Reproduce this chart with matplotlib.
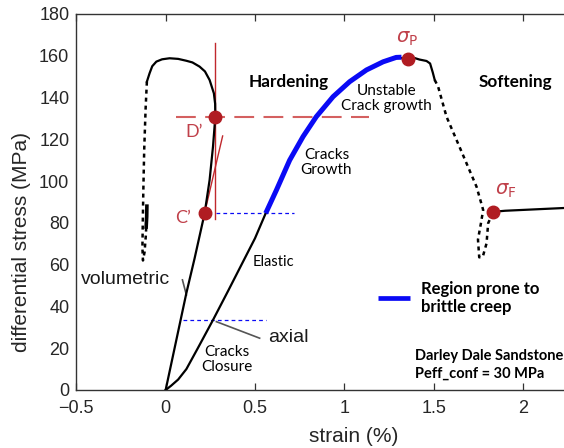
import matplotlib
matplotlib.use("Agg")
import matplotlib.pyplot as plt

# ---------------- data ----------------
# axial strain curve, loading part (solid black)
axial_x = [0.0, 0.03, 0.07, 0.116, 0.18, 0.265, 0.35, 0.433, 0.50, 0.56, 0.62, 0.694,
           0.769, 0.843, 0.937, 1.03, 1.124, 1.217, 1.29, 1.357, 1.39, 1.42, 1.46, 1.48,
           1.495, 1.506]
axial_y = [0.0, 2.0, 5.0, 10.0, 20.0, 33.5, 47.5, 61.4, 72.6, 84.6, 95.7, 110.0,
           121.3, 130.8, 140.4, 147.6, 153.2, 157.1, 159.2, 158.5, 159.0, 158.2, 157.5, 156.3,
           152.0, 148.4]
# region prone to brittle creep (blue overlay on the axial curve)
creep_x = [0.56, 0.62, 0.694, 0.769, 0.843, 0.937, 1.03, 1.124, 1.217, 1.29, 1.32]
creep_y = [84.6, 95.7, 110.0, 121.3, 130.8, 140.4, 147.6, 153.2, 157.1, 159.2, 159.3]
# axial post-peak (dotted) and residual (solid)
post_x = [1.506, 1.525, 1.572, 1.628, 1.684, 1.74, 1.777, 1.765, 1.748, 1.755, 1.775,
          1.796, 1.805, 1.833]
post_y = [148.4, 145.2, 130.8, 119.7, 108.5, 97.3, 86.2, 80.0, 72.0, 63.5, 63.8,
          70.2, 79.8, 85.3]
resid_x = [1.833, 1.9, 2.0, 2.1, 2.2, 2.3]
resid_y = [85.3, 85.8, 86.2, 86.6, 87.0, 87.4]
# volumetric strain curve (solid) and its unloading part (dotted)
vol_x = [0.0, 0.116, 0.162, 0.218, 0.246, 0.265, 0.278, 0.277, 0.27, 0.246, 0.22, 0.19,
         0.15, 0.116, 0.07, 0.022, -0.02, -0.052, -0.075, -0.09, -0.105]
vol_y = [0.0, 46.4, 63.0, 84.5, 100.5, 116.5, 130.8, 137.0, 142.0, 148.4, 152.5, 154.8,
         156.8, 157.6, 158.5, 158.8, 158.3, 157.2, 155.0, 151.6, 147.6]
vold_x = [-0.105, -0.112, -0.12, -0.125, -0.128, -0.13, -0.127, -0.118, -0.11, -0.106]
vold_y = [147.6, 135.0, 115.0, 95.0, 80.0, 68.0, 62.0, 66.0, 75.0, 87.5]
volh_x = [-0.109, -0.106, -0.105]
volh_y = [78.0, 83.0, 88.0]

# characteristic points
pt_names = ["C'", "D'", "P", "F"]
pt_x = [0.218, 0.278, 1.357, 1.833]
pt_y = [84.5, 130.8, 158.5, 85.3]

xticks = [-0.5, 0, 0.5, 1, 1.5, 2]
yticks = list(range(0, 181, 20))

# ---------------- figure ----------------
fig = plt.figure(figsize=(5.64, 4.48), dpi=100)
ax = fig.add_axes([0.1353, 0.1295, 0.9504, 0.8393])
ax.set_xlim(-0.5, 2.5)
ax.set_ylim(0, 180)

RED_DOT = "#b01c22"
RED_TXT = "#c0404a"
RED_LN = "#c0282d"
BLUE = "#0a0af5"

# guide lines
ax.plot([0.06, 1.14], [130.8, 130.8], color="#d46060", lw=1.5, dashes=(9.5, 4.5), zorder=1)
ax.plot([0.279, 0.279], [82, 166], color=RED_LN, lw=1.0, zorder=2)
ax.plot([0.218, 0.319], [84.7, 121.6], color=RED_LN, lw=1.0, zorder=2)
ax.plot([0.28, 0.72], [84.6, 84.6], color=BLUE, lw=0.9, dashes=(3, 2.5), zorder=1)
ax.plot([0.097, 0.564], [33.5, 33.5], color=BLUE, lw=0.9, dashes=(3, 2.5), zorder=1)

# curves
ax.plot(axial_x, axial_y, color="black", lw=1.6, zorder=3)
ax.plot(creep_x, creep_y, color=BLUE, lw=3.6, solid_capstyle="butt", zorder=4)
ax.plot(post_x, post_y, color="black", lw=1.8, dashes=(1.6, 1.6), zorder=3)
ax.plot(resid_x, resid_y, color="black", lw=1.6, zorder=3)
ax.plot(vol_x, vol_y, color="black", lw=1.6, zorder=3)
ax.plot(vold_x, vold_y, color="black", lw=1.8, dashes=(1.6, 1.6), zorder=3)
ax.plot(volh_x, volh_y, color="black", lw=2.6, zorder=3)

# markers
ax.plot(pt_x, pt_y, "o", color=RED_DOT, ms=9, zorder=6, clip_on=False)

# labels of points
ax.text(0.157, 123.6, "D\u2019", color=RED_TXT, fontsize=13, family="Lato",
        ha="center", va="center")
ax.text(0.097, 82.3, "C\u2019", color=RED_TXT, fontsize=13, family="Lato",
        ha="center", va="center")
ax.text(1.35, 168.5, r"$\sigma_{\mathrm{P}}$", color=RED_TXT, fontsize=14,
        ha="center", va="center")
ax.text(1.905, 95.7, r"$\sigma_{\mathrm{F}}$", color=RED_TXT, fontsize=14,
        ha="center", va="center")

# region labels
ax.text(0.69, 147.5, "Hardening", fontsize=12.3, weight="bold", family="Lato",
        ha="center", va="center")
ax.text(1.96, 147.5, "Softening", fontsize=12.3, weight="bold", family="Lato",
        ha="center", va="center")
ax.text(1.235, 139.5, "Unstable\nCrack growth", fontsize=11, family="Lato",
        ha="center", va="center", linespacing=1.1)
ax.text(0.90, 108.9, "Cracks\nGrowth", fontsize=11, family="Lato",
        ha="center", va="center", linespacing=1.1)
ax.text(0.605, 61.3, "Elastic", fontsize=10.5, family="Lato", ha="center", va="center")
ax.text(0.342, 14.8, "Cracks\nClosure", fontsize=11, family="Lato",
        ha="center", va="center", linespacing=1.1)

# curve names with pointer lines
ax.text(-0.472, 52.7, "volumetric", fontsize=14, family="Liberation Sans",
        ha="left", va="center", color="#1a1a1a")
ax.plot([0.094, 0.116], [52.7, 45.5], color="#555555", lw=1.2, zorder=2)
ax.text(0.573, 24.9, "axial", fontsize=14, family="Liberation Sans",
        ha="left", va="center", color="#1a1a1a")
ax.plot([0.284, 0.526], [32.7, 24.8], color="#555555", lw=1.2, zorder=2)

# legend-like annotation
ax.plot([1.19, 1.37], [44, 44], color=BLUE, lw=3.4, solid_capstyle="butt")
ax.text(1.43, 44, "Region prone to\nbrittle creep", fontsize=12, weight="bold",
        family="Lato", ha="left", va="center", linespacing=1.15)
ax.text(1.394, 12, "Darley Dale Sandstone\nPeff_conf = 30 MPa", fontsize=10.5,
        weight="bold", family="Lato", ha="left", va="center", linespacing=1.3)

# axes styling
ax.set_xticks(xticks)
ax.set_xticklabels(["\u22120.5", "0", "0.5", "1", "1.5", "2"])
ax.set_yticks(yticks)
for lab in ax.get_xticklabels() + ax.get_yticklabels():
    lab.set_family("Liberation Sans")
    lab.set_fontsize(13)
    lab.set_color("#262626")
ax.tick_params(axis="x", direction="in", length=5, width=0.9, top=True, pad=7,
               color="#333333")
ax.tick_params(axis="y", direction="in", length=0, width=0.9, right=False, pad=5,
               color="#333333")
for s in ax.spines.values():
    s.set_linewidth(1.0)
    s.set_color("#333333")

ax.set_xlabel("strain (%)", fontsize=15, family="Liberation Sans", color="#262626")
ax.set_ylabel("differential stress (MPa)", fontsize=15, family="Liberation Sans",
              color="#262626")
ax.xaxis.label.set_va("center")
ax.xaxis.set_label_coords(0.517, -0.125)
ax.yaxis.label.set_va("center")
ax.yaxis.set_label_coords(-0.102, 0.394)

fig.savefig("out.png", dpi=100)
